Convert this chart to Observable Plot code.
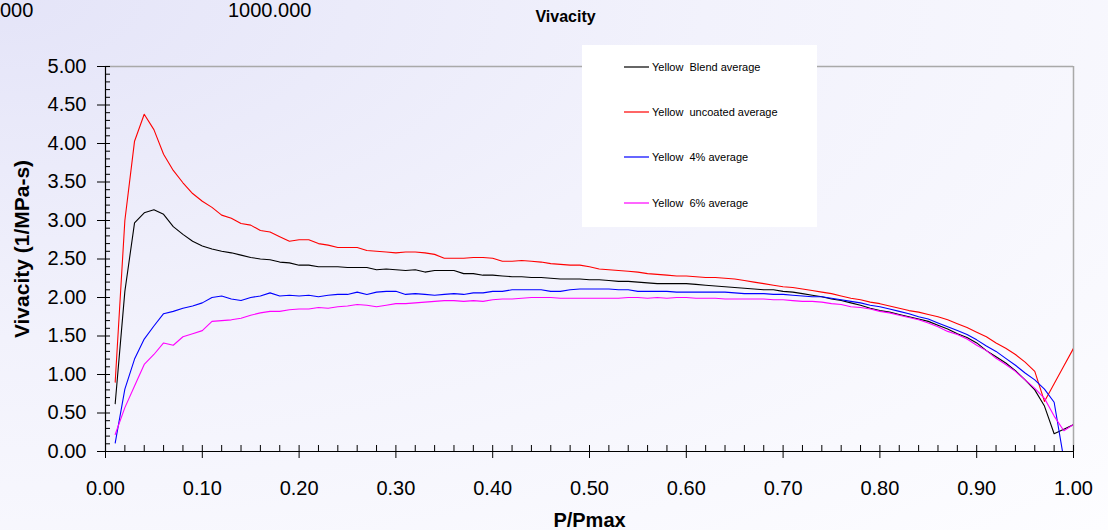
<!DOCTYPE html>
<html>
<head>
<meta charset="utf-8">
<script src="https://cdn.jsdelivr.net/npm/d3@7"></script>
<script src="https://cdn.jsdelivr.net/npm/@observablehq/plot@0.6"></script>
<style>
  html, body { margin: 0; padding: 0; }
  body { width: 1108px; height: 530px; overflow: hidden; font-family: "Liberation Sans", Arial, sans-serif; }
  #wrap { position: relative; width: 1108px; height: 530px;
    background: radial-gradient(ellipse farthest-corner at 0 0, #e4e4f8 0%, #f2f2fc 45%, #fdfdff 100%); }
  #wrap svg { position: absolute; left: 0; top: 0; }
  .stray { position: absolute; font-size: 20px; line-height: 20px; color: #000; white-space: nowrap; }
  #legend { position: absolute; left: 582px; top: 45px; width: 235px; height: 182px; background: #fff; }
  .item { position: absolute; left: 42px; height: 14px; display: flex; align-items: center; font-size: 11px; color: #000; white-space: pre; }
  .sw { width: 25px; height: 0; border-top: 2px solid; margin-right: 3px; opacity: 0.6; }
</style>
</head>
<body>
<div id="wrap"></div>
<script>
// ---- data ----
const pp = [0.01,0.02,0.03,0.04,0.05,0.06,0.07,0.08,0.09,0.10,
  0.11,0.12,0.13,0.14,0.15,0.16,0.17,0.18,0.19,0.20,
  0.21,0.22,0.23,0.24,0.25,0.26,0.27,0.28,0.29,0.30,
  0.31,0.32,0.33,0.34,0.35,0.36,0.37,0.38,0.39,0.40,
  0.41,0.42,0.43,0.44,0.45,0.46,0.47,0.48,0.49,0.50,
  0.51,0.52,0.53,0.54,0.55,0.56,0.57,0.58,0.59,0.60,
  0.61,0.62,0.63,0.64,0.65,0.66,0.67,0.68,0.69,0.70,
  0.71,0.72,0.73,0.74,0.75,0.76,0.77,0.78,0.79,0.80,
  0.81,0.82,0.83,0.84,0.85,0.86,0.87,0.88,0.89,0.90,
  0.91,0.92,0.93,0.94,0.95,0.96,0.97,0.98,0.99,1.00];

const blend = [0.62,2.08,2.97,3.10,3.14,3.08,2.92,2.82,2.73,2.67,
  2.63,2.60,2.58,2.55,2.52,2.50,2.49,2.46,2.45,2.42,
  2.42,2.40,2.40,2.40,2.39,2.39,2.39,2.36,2.37,2.36,
  2.35,2.36,2.33,2.35,2.35,2.35,2.31,2.31,2.29,2.29,
  2.28,2.27,2.27,2.26,2.26,2.25,2.24,2.24,2.24,2.23,
  2.23,2.22,2.21,2.21,2.20,2.19,2.18,2.18,2.18,2.18,
  2.17,2.16,2.15,2.14,2.13,2.12,2.11,2.10,2.10,2.08,
  2.07,2.05,2.03,2.01,1.98,1.96,1.93,1.90,1.86,1.83,
  1.81,1.78,1.75,1.72,1.69,1.64,1.59,1.53,1.48,1.41,
  1.31,1.23,1.15,1.05,0.93,0.80,0.59,0.23,0.29,0.35];

const uncoated = [0.90,3.00,4.03,4.38,4.18,3.86,3.65,3.49,3.35,3.25,
  3.17,3.07,3.03,2.96,2.94,2.87,2.85,2.79,2.73,2.75,
  2.75,2.70,2.68,2.65,2.65,2.65,2.61,2.60,2.59,2.58,
  2.59,2.59,2.58,2.56,2.51,2.51,2.51,2.52,2.52,2.51,
  2.47,2.47,2.48,2.47,2.46,2.44,2.43,2.42,2.42,2.40,
  2.37,2.36,2.35,2.34,2.33,2.31,2.30,2.29,2.28,2.28,
  2.27,2.26,2.26,2.25,2.24,2.22,2.20,2.18,2.16,2.14,
  2.13,2.11,2.09,2.07,2.05,2.02,1.99,1.97,1.94,1.92,
  1.89,1.86,1.83,1.81,1.78,1.75,1.71,1.66,1.61,1.55,
  1.49,1.41,1.34,1.26,1.16,1.04,0.65,0.88,1.11,1.34];

const pct4 = [0.11,0.81,1.20,1.46,1.63,1.79,1.82,1.86,1.89,1.93,
  2.00,2.02,1.98,1.96,2.00,2.02,2.06,2.02,2.03,2.02,
  2.03,2.01,2.03,2.04,2.04,2.07,2.04,2.07,2.08,2.08,
  2.04,2.05,2.04,2.03,2.04,2.05,2.04,2.06,2.06,2.08,
  2.08,2.10,2.10,2.10,2.10,2.08,2.08,2.10,2.11,2.11,
  2.11,2.11,2.10,2.10,2.08,2.08,2.08,2.08,2.07,2.07,
  2.07,2.07,2.07,2.07,2.06,2.05,2.05,2.05,2.04,2.04,
  2.03,2.02,2.01,2.01,1.99,1.97,1.95,1.93,1.90,1.88,
  1.85,1.82,1.79,1.75,1.72,1.67,1.62,1.57,1.52,1.45,
  1.37,1.30,1.21,1.12,1.02,0.93,0.81,0.64,-0.10,null];

const pct6 = [0.22,0.57,0.85,1.13,1.26,1.41,1.38,1.49,1.53,1.57,
  1.69,1.70,1.71,1.73,1.77,1.80,1.82,1.82,1.84,1.85,
  1.85,1.87,1.86,1.88,1.89,1.91,1.90,1.88,1.90,1.92,
  1.92,1.93,1.94,1.95,1.96,1.96,1.95,1.96,1.95,1.97,
  1.98,1.98,1.99,2.00,2.00,2.00,1.99,1.99,1.99,1.99,
  1.99,1.99,1.99,2.00,2.00,1.99,2.00,1.99,2.00,2.00,
  1.99,1.99,1.99,1.98,1.98,1.98,1.98,1.98,1.97,1.97,
  1.96,1.95,1.95,1.94,1.92,1.91,1.88,1.87,1.85,1.82,
  1.80,1.77,1.74,1.71,1.67,1.62,1.56,1.52,1.46,1.38,
  1.31,1.21,1.13,1.04,0.93,0.82,0.69,0.46,0.27,0.35];

const seriesNames = ["Yellow  Blend average", "Yellow  uncoated average", "Yellow  4% average", "Yellow  6% average"];
const seriesColors = ["#000000", "#ff0000", "#0000ff", "#ff00ff"];
const seriesValues = [blend, uncoated, pct4, pct6];

const xMajor = [0,0.1,0.2,0.3,0.4,0.5,0.6,0.7,0.8,0.9,1.0];
const xMinor = [0.02,0.04,0.06,0.08,0.12,0.14,0.16,0.18,0.22,0.24,0.26,0.28,0.32,0.34,0.36,0.38,
  0.42,0.44,0.46,0.48,0.52,0.54,0.56,0.58,0.62,0.64,0.66,0.68,0.72,0.74,0.76,0.78,0.82,0.84,0.86,0.88,0.92,0.94,0.96,0.98];
const yMajor = [0,0.5,1,1.5,2,2.5,3,3.5,4,4.5,5];
const yMinor = [0.1,0.2,0.3,0.4,0.6,0.7,0.8,0.9,1.1,1.2,1.3,1.4,1.6,1.7,1.8,1.9,2.1,2.2,2.3,2.4,
  2.6,2.7,2.8,2.9,3.1,3.2,3.3,3.4,3.6,3.7,3.8,3.9,4.1,4.2,4.3,4.4,4.6,4.7,4.8,4.9];

const chartTitle = "Vivacity";
const xTitle = "P/Pmax";
const yTitle = "Vivacity (1/MPa-s)";
const strayTexts = ["000", "1000.000"];

// ---- build ----
const rows = [];
seriesValues.forEach((vals, s) => vals.forEach((v, i) => rows.push({s, name: seriesNames[s], x: pp[i], y: v})));

const W = 1108, H = 530, mL = 105, mR = 35, mT = 66, mB = 79;
const plotW = W - mL - mR, plotH = H - mT - mB;
const f2 = d3.format(".2f");

const chart = Plot.plot({
  width: W, height: H,
  marginLeft: mL, marginRight: mR, marginTop: mT, marginBottom: mB,
  style: {background: "transparent", fontFamily: "'Liberation Sans', Arial, sans-serif", color: "#000", overflow: "visible"},
  x: {domain: [0, 1]},
  y: {domain: [0, 5]},
  marks: [
    Plot.ruleY([5], {stroke: "#a9a9a9", strokeWidth: 1.5}),
    Plot.ruleX([1], {stroke: "#a9a9a9", strokeWidth: 1.5}),
    Plot.line(rows, {x: "x", y: "y", z: "s", stroke: d => seriesColors[d.s], strokeWidth: 1.1, clip: true}),
    Plot.tickX(xMinor, {x: d => d, insetTop: plotH - 6, stroke: "#000"}),
    Plot.tickX(xMajor, {x: d => d, insetTop: plotH - 6, stroke: "#000"}),
    Plot.tickY(yMinor, {y: d => d, insetRight: plotW - 5, stroke: "#000"}),
    Plot.tickY(yMajor, {y: d => d, insetRight: plotW - 5, stroke: "#000"}),
    Plot.axisX(xMajor, {tickSize: 7, tickPadding: 22, tickFormat: f2, fontSize: 20, label: null}),
    Plot.axisY(yMajor, {tickSize: 8, tickPadding: 11, tickFormat: f2, fontSize: 20, label: null}),
    Plot.ruleY([0], {stroke: "#000", strokeWidth: 1.2}),
    Plot.ruleX([0], {stroke: "#000", strokeWidth: 1.2}),
    Plot.text([xTitle], {frameAnchor: "bottom", lineAnchor: "middle", dy: 69, fontSize: 20, fontWeight: "bold"}),
    Plot.text([yTitle], {frameAnchor: "left", textAnchor: "middle", lineAnchor: "middle", dx: -83, dy: -10, rotate: -90, fontSize: 21, fontWeight: "bold"}),
    Plot.text([chartTitle], {frameAnchor: "top", lineAnchor: "middle", dx: -24, dy: -50, fontSize: 16, fontWeight: "bold"})
  ]
});

const wrap = document.getElementById("wrap");
wrap.appendChild(chart);

// stray leftover labels at the top
const strayPos = [[0, 0], [228, 0]];
strayTexts.forEach((t, i) => {
  const d = document.createElement("div");
  d.className = "stray";
  d.style.left = strayPos[i][0] + "px";
  d.style.top = strayPos[i][1] + "px";
  d.textContent = t;
  wrap.appendChild(d);
});

// legend
const lg = document.createElement("div");
lg.id = "legend";
const rowTops = [15, 60, 105, 151];
seriesNames.forEach((n, i) => {
  const it = document.createElement("div");
  it.className = "item";
  it.style.top = rowTops[i] + "px";
  const sw = document.createElement("span");
  sw.className = "sw";
  sw.style.borderTopColor = seriesColors[i];
  const tx = document.createElement("span");
  tx.textContent = n;
  it.appendChild(sw); it.appendChild(tx);
  lg.appendChild(it);
});
wrap.appendChild(lg);
</script>
</body>
</html>
